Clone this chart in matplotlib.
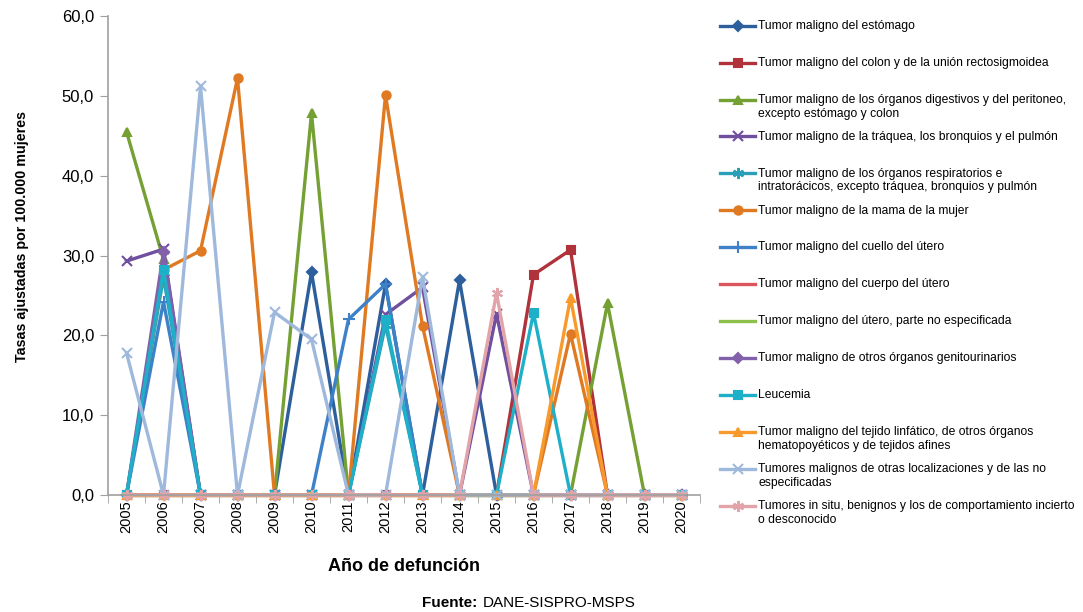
import numpy as np
import matplotlib
matplotlib.use("Agg")
import matplotlib.pyplot as plt
from matplotlib.legend_handler import HandlerLine2D

plt.rcParams['font.family'] = ['Liberation Sans', 'DejaVu Sans']

years = [str(y) for y in range(2005, 2021)]

# tasas ajustadas por 100.000 mujeres, 2005..2020
estomago =        [0, 0, 0, 0, 0, 27.9, 0, 26.4, 0, 26.9, 0, 0, 0, 0, 0, 0]
colon =           [0, 0, 0, 0, 0, 0, 0, 0, 0, 0, 0, 27.6, 30.7, 0, 0, 0]
digestivos =      [45.5, 29.5, 0, 0, 0, 47.8, 0, 0, 0, 0, 0, 0, 0, 24.0, 0, 0]
traquea =         [29.3, 30.8, 0, 0, 0, 0, 0, 22.6, 26.0, 0, 22.7, 0, 0, 0, 0, 0]
respiratorios =   [0, 27.3, 0, 0, 0, 0, 0, 21.3, 0, 0, 0, 0, 0, 0, 0, 0]
mama =            [0, 28.2, 30.6, 52.2, 0, 0, 0, 50.1, 21.2, 0, 0, 0, 20.2, 0, 0, 0]
cuello =          [0, 24.2, 0, 0, 0, 0, 22.0, 26.4, 0, 0, 0, 0, 0, 0, 0, 0]
cuerpo =          [0, 0, 0, 0, 0, 0, 0, 0, 0, 0, 0, 0, 0, 0, 0, 0]
utero_ne =        [0, 0, 0, 0, 0, 0, 0, 0, 0, 0, 0, 0, 0, 0, 0, 0]
genitourinarios = [0, 30.4, 0, 0, 0, 0, 0, 0, 0, 0, 0, 0, 0, 0, 0, 0]
leucemia =        [0, 28.2, 0, 0, 0, 0, 0, 21.9, 0, 0, 0, 22.8, 0, 0, 0, 0]
linfatico =       [0, 0, 0, 0, 0, 0, 0, 0, 0, 0, 0, 0, 24.7, 0, 0, 0]
otras =           [17.8, 0, 51.2, 0, 22.9, 19.5, 0, 0, 27.3, 0, 0, 0, 0, 0, 0, 0]
in_situ =         [0, 0, 0, 0, 0, 0, 0, 0, 0, 0, 25.3, 0, 0, 0, 0, 0]

labels = [
    "Tumor maligno del estómago",
    "Tumor maligno del colon y de la unión rectosigmoidea",
    "Tumor maligno de los órganos digestivos y del peritoneo,\nexcepto estómago y colon",
    "Tumor maligno de la tráquea, los bronquios y el pulmón",
    "Tumor maligno de los órganos respiratorios e\nintratorácicos, excepto tráquea, bronquios y pulmón",
    "Tumor maligno de la mama de la mujer",
    "Tumor maligno del cuello del útero",
    "Tumor maligno del cuerpo del útero",
    "Tumor maligno del útero, parte no especificada",
    "Tumor maligno de otros órganos genitourinarios",
    "Leucemia",
    "Tumor maligno del tejido linfático, de otros órganos\nhematopoyéticos y de tejidos afines",
    "Tumores malignos de otras localizaciones y de las no\nespecificadas",
    "Tumores in situ, benignos y los de comportamiento incierto\no desconocido",
]
series = [estomago, colon, digestivos, traquea, respiratorios, mama, cuello,
          cuerpo, utero_ne, genitourinarios, leucemia, linfatico, otras, in_situ]
colors = ['#2d5f9c', '#b0323a', '#75a034', '#6f4f9e', '#2a9fb8', '#e07a22', '#3d82c8',
          '#d9575a', '#8cc04a', '#8261aa', '#1fb0c9', '#f89a2b', '#9fb9dc', '#e3a4a9']
asterisk = (6, 2, 0)
markers = ['D', 's', '^', 'x', asterisk, 'o', '+', None, None, 'D', 's', '^', 'x', asterisk]
msizes = [5, 6, 6, 7, 8, 6, 8, 0, 0, 5, 6, 6, 7, 8]


class TopLineHandler(HandlerLine2D):
    # put the swatch next to the first text line
    def create_artists(self, legend, orig_handle, xdescent, ydescent, width, height, fontsize, trans):
        arts = super().create_artists(legend, orig_handle, xdescent, ydescent, width, height, fontsize, trans)
        for a in arts:
            a.set_ydata(np.asarray(a.get_ydata(), dtype=float) + 0.62 * fontsize)
        return arts


fig = plt.figure(figsize=(10.83, 6.12), dpi=100)
ax = fig.add_axes([108 / 1083, 117 / 612, 592 / 1083, 479 / 612])

x = np.arange(len(years))
handles = []
for vals, lab, c, m, ms in zip(series, labels, colors, markers, msizes):
    h, = ax.plot(x, vals, color=c, lw=2.4, marker=m, markersize=ms,
                 markeredgewidth=1.5, label=lab, solid_joinstyle='miter')
    h.set_clip_on(False)
    handles.append(h)

ax.set_xlim(-0.5, len(years) - 0.5)
ax.set_ylim(0, 60)
ax.set_yticks(np.arange(0, 61, 10))
ax.set_yticklabels([f"{v:.1f}".replace('.', ',') for v in np.arange(0, 61, 10)], fontsize=12)
ax.set_xticks(x)
ax.set_xticklabels(years, rotation=90, fontsize=10.5)
ax.set_xticks(np.arange(-0.5, len(years), 1), minor=True)
ax.tick_params(axis='x', which='major', length=0, pad=4)
ax.tick_params(axis='x', which='minor', length=6, color='#a0a0a0', direction='out')
ax.tick_params(axis='y', length=6, color='#a0a0a0', direction='out', pad=4)
for s in ['top', 'right']:
    ax.spines[s].set_visible(False)
for s in ['left', 'bottom']:
    ax.spines[s].set_color('#a0a0a0')
    ax.spines[s].set_linewidth(1.2)

ax.set_ylabel("Tasas ajustadas por 100.000 mujeres", fontsize=10.3, fontweight='bold')
ax.yaxis.set_label_coords(-0.133, 0.54)
ax.set_xlabel("Año de defunción", fontsize=13, fontweight='bold', labelpad=18)

leg_labels = [l if '\n' in l else l + "\n " for l in labels]
fig.legend(handles, leg_labels, loc='upper left', bbox_to_anchor=(720 / 1083, 1 - 20 / 612),
           frameon=False, fontsize=8.7, handlelength=2.9, handletextpad=0.25,
           labelspacing=0.92, borderpad=0, borderaxespad=0,
           handler_map={h: TopLineHandler() for h in handles})

fig.text(477 / 1083, 9 / 612, "Fuente:", fontsize=11, fontweight='bold', ha='right', va='center')
fig.text(483 / 1083, 9 / 612, "DANE-SISPRO-MSPS", fontsize=11, ha='left', va='center')

fig.savefig("out.png", dpi=100)
